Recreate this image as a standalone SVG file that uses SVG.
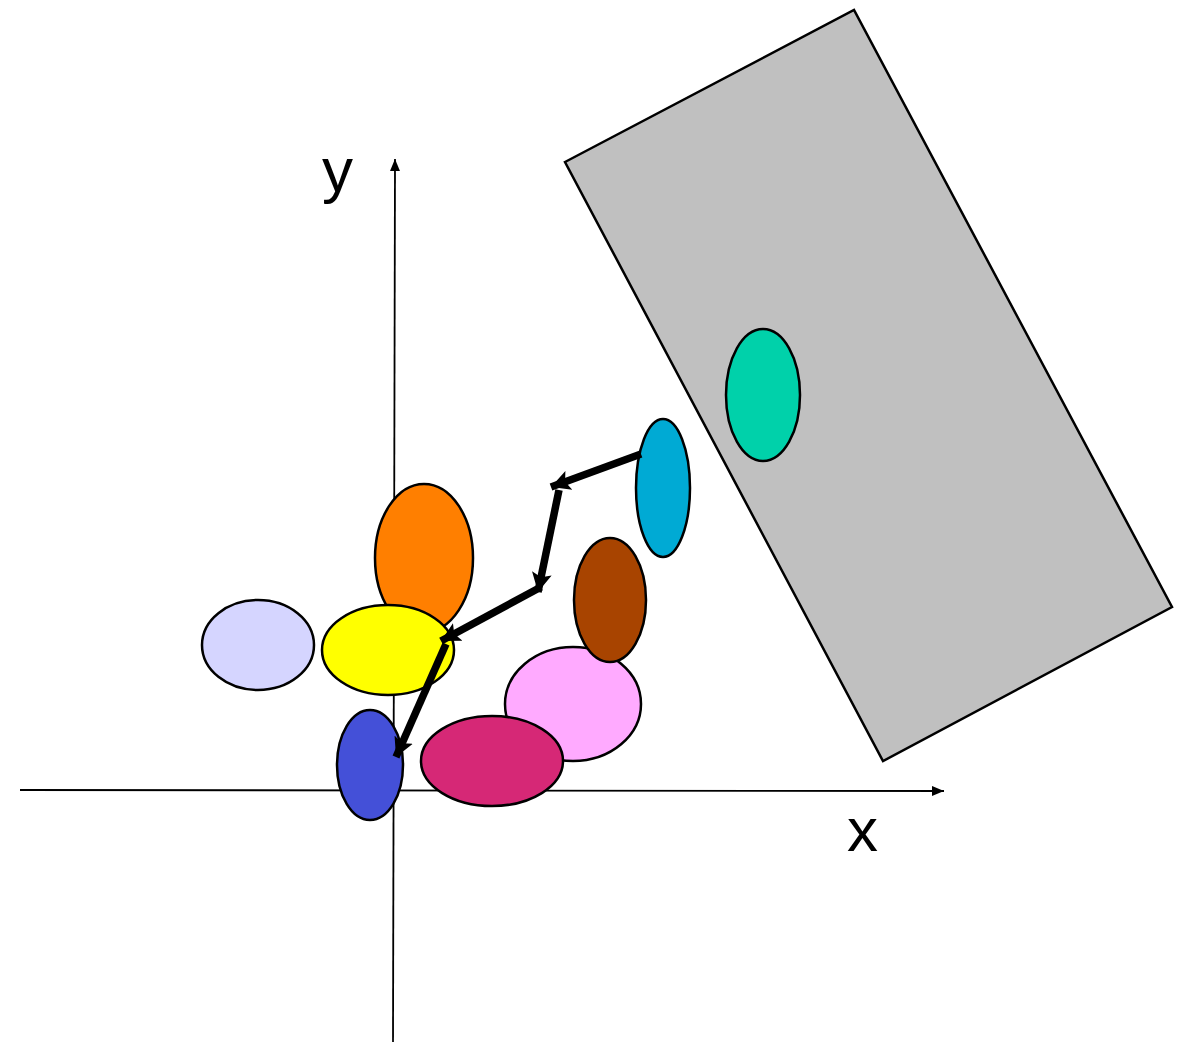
<svg xmlns="http://www.w3.org/2000/svg" width="1184" height="1042" viewBox="0 0 1184 1042">
<defs>
<style>
.ax{stroke:#000;stroke-width:1.8;fill:none}
.nd{stroke:#000;stroke-width:2.5}
.ar{stroke:#000;stroke-width:7.5;fill:none}
.lbl{font-family:"Liberation Sans",Arial,sans-serif;font-size:62px;fill:#000}
</style>
<marker id="axh" markerUnits="userSpaceOnUse" markerWidth="14" markerHeight="10" refX="12" refY="5" orient="auto">
<path d="M0,0 L12,5 L0,10 Z" fill="#000"/>
</marker>
<marker id="ah" markerUnits="userSpaceOnUse" markerWidth="22" markerHeight="22" refX="19" refY="11" orient="auto">
<path d="M0,1 L19,11 L0,21 L4,11 Z" fill="#000"/>
</marker>
</defs>
<rect width="1184" height="1042" fill="#fff"/>
<g id="axes">
<line class="ax" x1="20" y1="790" x2="944" y2="791" marker-end="url(#axh)"/>
<line class="ax" x1="393" y1="1042" x2="395" y2="159" marker-end="url(#axh)"/>
<text class="lbl" x="322" y="191">y</text>
<text class="lbl" x="847" y="851">x</text>
</g>
<g id="plane"><polygon class="nd" points="565,162 854,10 1172,607 883,761" fill="#c0c0c0"/></g>
<g id="teal"><ellipse class="nd" cx="763" cy="395" rx="37" ry="66" fill="#00d1aa"/></g>
<g id="lavender"><ellipse class="nd" cx="258" cy="645" rx="56" ry="45" fill="#d5d5ff"/></g>
<g id="orange"><ellipse class="nd" cx="424" cy="558" rx="49" ry="74" fill="#ff7f00"/></g>
<g id="yellow"><ellipse class="nd" cx="388" cy="650" rx="66" ry="45" fill="#ffff00"/></g>
<g id="pink"><ellipse class="nd" cx="573" cy="704" rx="68" ry="57" fill="#ffaaff"/></g>
<g id="brown"><ellipse class="nd" cx="610" cy="600" rx="36" ry="62" fill="#a84400"/></g>
<g id="magenta"><ellipse class="nd" cx="492" cy="761" rx="71" ry="45" fill="#d62876"/></g>
<g id="darkblue"><ellipse class="nd" cx="370" cy="765" rx="33" ry="55" fill="#4450d8"/></g>
<g id="cyan"><ellipse class="nd" cx="663" cy="488" rx="27" ry="69" fill="#00aad4"/></g>
<g id="connectors">
<line class="ar" x1="641" y1="454" x2="551" y2="487" marker-end="url(#ah)"/>
<line class="ar" x1="559" y1="490" x2="538" y2="592" marker-end="url(#ah)"/>
<line class="ar" x1="541" y1="587" x2="441" y2="641" marker-end="url(#ah)"/>
<line class="ar" x1="446" y1="644" x2="396" y2="757" marker-end="url(#ah)"/>
</g>
</svg>
